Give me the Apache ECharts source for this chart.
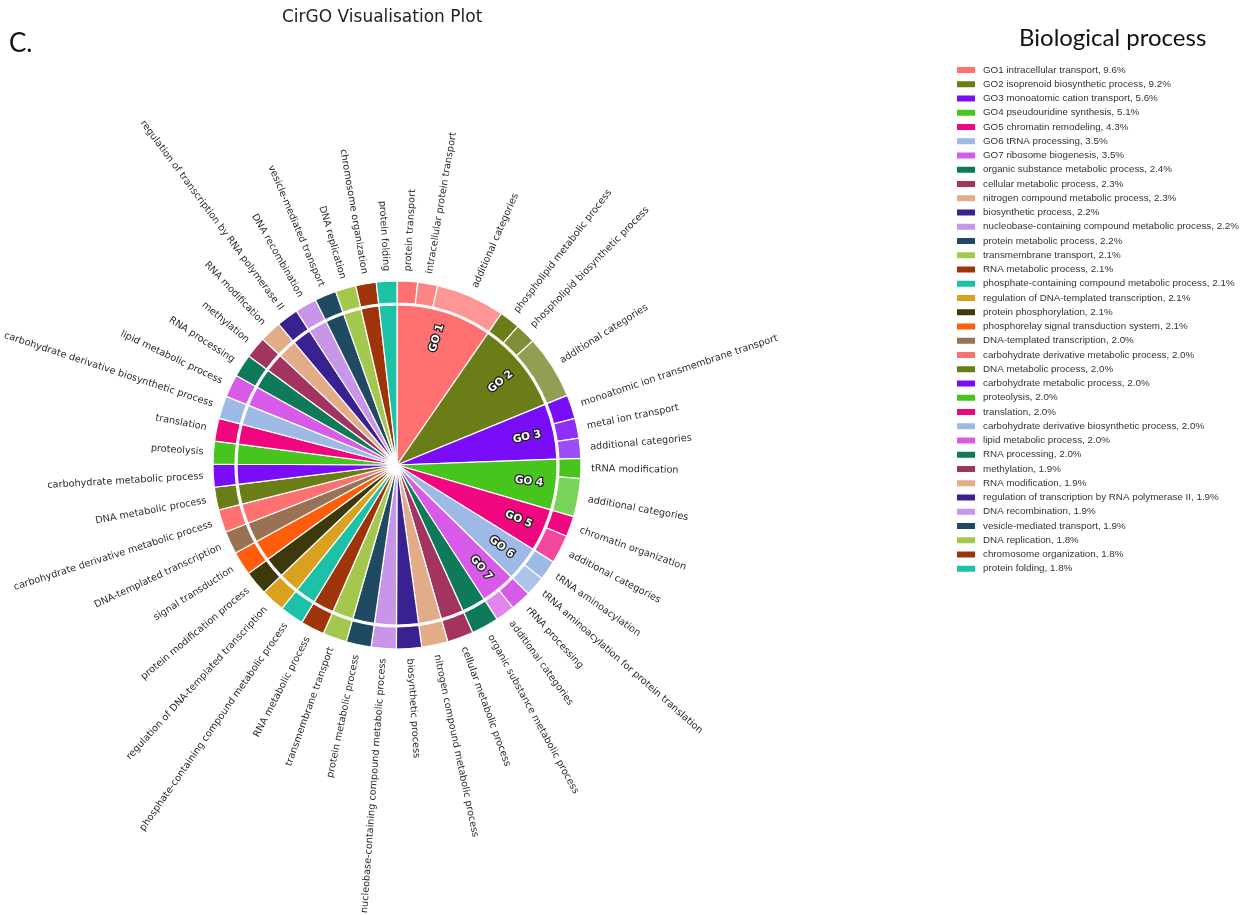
<!DOCTYPE html>
<html>
<head>
<meta charset="utf-8">
<script src="https://cdn.jsdelivr.net/npm/echarts@6/dist/echarts.min.js"></script>
<style>
html,body{margin:0;padding:0;background:#ffffff;}
#chart{width:1251px;height:915px;}
</style>
</head>
<body>
<div id="chart"></div>
<script>
// ---- data ----
const categories = [
  'intracellular transport','isoprenoid biosynthetic process','monoatomic cation transport',
  'pseudouridine synthesis','chromatin remodeling','tRNA processing','ribosome biogenesis',
  'organic substance metabolic process','cellular metabolic process','nitrogen compound metabolic process',
  'biosynthetic process','nucleobase-containing compound metabolic process','protein metabolic process',
  'transmembrane transport','RNA metabolic process','phosphate-containing compound metabolic process',
  'regulation of DNA-templated transcription','protein phosphorylation','phosphorelay signal transduction system',
  'DNA-templated transcription','carbohydrate derivative metabolic process','DNA metabolic process',
  'carbohydrate metabolic process','proteolysis','translation','carbohydrate derivative biosynthetic process',
  'lipid metabolic process','RNA processing','methylation','RNA modification',
  'regulation of transcription by RNA polymerase II','DNA recombination','vesicle-mediated transport',
  'DNA replication','chromosome organization','protein folding'
];
const values = [
  9.6, 9.2, 5.6, 5.1, 4.3, 3.5, 3.5,
  2.4, 2.3, 2.3, 2.2, 2.2, 2.2,
  2.1, 2.1, 2.1, 2.1, 2.1, 2.1,
  2.0, 2.0, 2.0, 2.0, 2.0, 2.0, 2.0, 2.0, 2.0,
  1.9, 1.9, 1.9, 1.9, 1.9,
  1.8, 1.8, 1.8
];
const goCodes = ['GO1','GO2','GO3','GO4','GO5','GO6','GO7'];
const goTags  = ['GO 1','GO 2','GO 3','GO 4','GO 5','GO 6','GO 7'];

// outer ring: sub-categories of the GO groups
const goSubNames = [
  ['protein transport','intracellular protein transport','additional categories'],
  ['phospholipid metabolic process','phospholipid biosynthetic process','additional categories'],
  ['monoatomic ion transmembrane transport','metal ion transport','additional categories'],
  ['tRNA modification','additional categories'],
  ['chromatin organization','additional categories'],
  ['tRNA aminoacylation','tRNA aminoacylation for protein translation'],
  ['rRNA processing','additional categories']
];
const goSubValues = [
  [1.8, 1.75, 6.05],
  [1.8, 1.8, 5.6],
  [2.1, 1.75, 1.75],
  [1.75, 3.35],
  [1.8, 2.5],
  [1.75, 1.75],
  [1.8, 1.7]
];
// outer ring labels of the remaining categories
const otherRingNames = [
  'organic substance metabolic process','cellular metabolic process','nitrogen compound metabolic process',
  'biosynthetic process','nucleobase-containing compound metabolic process','protein metabolic process',
  'transmembrane transport','RNA metabolic process','phosphate-containing compound metabolic process',
  'regulation of DNA-templated transcription','protein modification process','signal transduction',
  'DNA-templated transcription','carbohydrate derivative metabolic process','DNA metabolic process',
  'carbohydrate metabolic process','proteolysis','translation','carbohydrate derivative biosynthetic process',
  'lipid metabolic process','RNA processing','methylation','RNA modification',
  'regulation of transcription by RNA polymerase II','DNA recombination','vesicle-mediated transport',
  'DNA replication','chromosome organization','protein folding'
];

// ---- style ----
const palette = [
  '#FF7171','#6A7D16','#7A0DF7','#47C41E','#F0067E','#9DBAE6','#D85AE8',
  '#0E7A5A','#A3335F','#E2AC88','#3A2191','#C896E9','#1F4A62','#A4C84D',
  '#9F330A','#1CC1A7','#D9A11E','#3C3A0D','#FF5C0C','#987253'
];
const CX = 397, CY = 465;
const R_IN = 160, R_RING0 = 162, R_RING1 = 184;

function colorOf(i){ return palette[i % palette.length]; }
function tint(hex, a){
  const r = parseInt(hex.slice(1,3),16), g = parseInt(hex.slice(3,5),16), b = parseInt(hex.slice(5,7),16);
  const f = c => Math.round(c*a + 255*(1-a)).toString(16).padStart(2,'0');
  return '#' + f(r) + f(g) + f(b);
}

const innerData = categories.map((n,i)=>({name:n, value:values[i], itemStyle:{color:colorOf(i)}}));
const ringData = [];
categories.forEach((n,i)=>{
  if (i < goCodes.length) {
    goSubNames[i].forEach((s,j)=>{
      const a = j === 0 ? 1 : (s === 'additional categories' ? 0.74 : 0.86);
      ringData.push({name:s, value:goSubValues[i][j], itemStyle:{color:tint(colorOf(i), a)}});
    });
  } else {
    ringData.push({name:otherRingNames[i-goCodes.length], value:values[i], itemStyle:{color:colorOf(i)}});
  }
});
const tagData = categories.map((n,i)=>({name:n, value:values[i]}));

const chart = echarts.init(document.getElementById('chart'), null, {renderer:'canvas'});
chart.setOption({
  animation:false,
  backgroundColor:'#ffffff',
  title:[
    {text:'CirGO Visualisation Plot', left:282, top:9, padding:0,
     textStyle:{fontFamily:'DejaVu Sans', fontSize:17, fontWeight:'normal', color:'#222'}},
    {text:'C.', left:9, top:31, padding:0,
     textStyle:{fontFamily:'Lato', fontSize:26, fontWeight:'normal', color:'#111'}},
    {text:'Biological process', left:1019, top:26, padding:0,
     textStyle:{fontFamily:'Lato', fontSize:24, fontWeight:'normal', color:'#111'}}
  ],
  legend:{
    orient:'vertical', left:957, top:63, padding:0,
    itemWidth:18, itemHeight:6, itemGap:0.25, icon:'rect',
    selectedMode:false,
    itemStyle:{borderWidth:0},
    data:categories,
    formatter:function(name){
      const i = categories.indexOf(name);
      return (i < goCodes.length ? goCodes[i] + ' ' : '') + name + ', ' + values[i].toFixed(1) + '%';
    },
    textStyle:{fontFamily:'Liberation Sans', fontSize:9.8, color:'#333', lineHeight:14, padding:[0,0,0,3]}
  },
  series:[
    {
      type:'pie', name:'inner', center:[CX,CY], radius:[0,R_IN],
      startAngle:90, clockwise:true, silent:true, avoidLabelOverlap:false,
      data:innerData,
      itemStyle:{borderColor:'#ffffff', borderWidth:1.2},
      label:{show:false}, labelLine:{show:false},
      emphasis:{disabled:true}
    },
    {
      type:'pie', name:'ring', center:[CX,CY], radius:[R_RING0,R_RING1],
      startAngle:90, clockwise:true, silent:true, avoidLabelOverlap:false,
      data:ringData,
      itemStyle:{borderColor:'#ffffff', borderWidth:1.2},
      label:{show:true, position:'outside', rotate:'radial', formatter:'{b}',
        fontFamily:'DejaVu Sans', fontSize:9.7, color:'#2a2a2a',
        distanceToLabelLine:0, overflow:'none'},
      labelLine:{show:false, length:10, length2:0},
      emphasis:{disabled:true}
    },
    {
      type:'pie', name:'tags', center:[CX,CY], radius:[100,R_IN],
      startAngle:90, clockwise:true, silent:true, avoidLabelOverlap:false,
      data:tagData,
      itemStyle:{color:'rgba(0,0,0,0)', borderWidth:0},
      label:{show:true, position:'inside', rotate:'radial',
        formatter:function(p){ return p.dataIndex < goTags.length ? goTags[p.dataIndex] : ''; },
        fontFamily:'DejaVu Sans', fontWeight:'bold', fontSize:10.5, color:'#ffffff',
        textBorderColor:'#222', textBorderWidth:2.5},
      labelLine:{show:false},
      emphasis:{disabled:true}
    }
  ]
});
</script>
</body>
</html>
